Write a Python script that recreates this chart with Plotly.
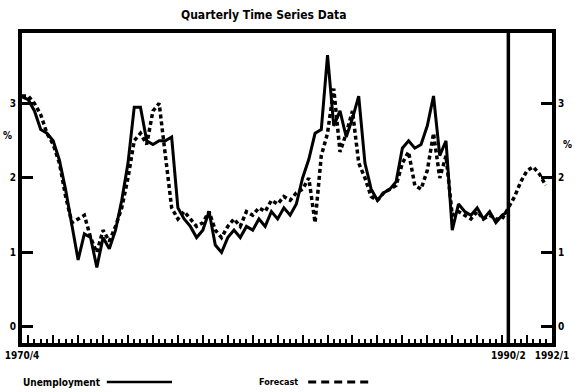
import plotly.graph_objects as go

# Quarterly index starting at 1970/4 (year + fraction of quarter start)
start_year = 1970.75
quarter_step = 0.25

unemployment = [
    3.09, 3.05, 2.90, 2.65, 2.60, 2.50, 2.24, 1.84, 1.37, 0.90,
    1.25, 1.20, 0.80, 1.20, 1.05, 1.30, 1.70, 2.20, 2.95, 2.95,
    2.50, 2.45, 2.50, 2.50, 2.55, 1.60, 1.45, 1.35, 1.20, 1.30,
    1.55, 1.10, 1.00, 1.20, 1.30, 1.20, 1.35, 1.30, 1.45, 1.35,
    1.55, 1.45, 1.60, 1.50, 1.65, 2.00, 2.25, 2.60, 2.65, 3.65,
    2.70, 2.90, 2.55, 2.80, 3.10, 2.20, 1.85, 1.70, 1.80, 1.85,
    1.95, 2.40, 2.50, 2.40, 2.45, 2.70, 3.10, 2.30, 2.50, 1.30,
    1.65, 1.55, 1.50, 1.60, 1.45, 1.55, 1.40, 1.50, 1.55,
]

forecast = [
    3.10, 3.10, 3.00, 2.85, 2.60, 2.45, 2.20, 1.75, 1.40, 1.45,
    1.50, 1.20, 1.00, 1.30, 1.15, 1.35, 1.60, 2.00, 2.50, 2.60,
    2.45, 2.90, 3.00, 2.30, 1.60, 1.45, 1.55, 1.45, 1.35, 1.40,
    1.55, 1.30, 1.20, 1.35, 1.45, 1.35, 1.55, 1.50, 1.60, 1.55,
    1.70, 1.65, 1.75, 1.70, 1.80, 1.85, 2.00, 1.40, 2.30, 2.60,
    3.20, 2.35, 2.60, 2.90, 2.20, 2.00, 1.75, 1.70, 1.80, 1.85,
    1.90, 2.20, 2.35, 1.90, 1.85, 2.10, 2.60, 2.00, 2.30, 1.50,
    1.55, 1.50, 1.45, 1.55, 1.45, 1.50, 1.45, 1.45, 1.60, 1.75,
    1.95, 2.10, 2.15, 2.05, 1.90,
]

y_ticks = [0, 1, 2, 3]
x_label_positions = [1970.75, 1990.25, 1992.0]
x_label_text = ["1970/4", "1990/2", "1992/1"]
forecast_origin = 1990.25
title_text = "Quarterly Time Series Data"

x_unemp = [start_year + quarter_step * i for i in range(len(unemployment))]
x_fore = [start_year + quarter_step * i for i in range(len(forecast))]

FONT = "DejaVu Sans Condensed, DejaVu Sans, sans-serif"
INK = "#000000"

fig = go.Figure()
fig.add_trace(go.Scatter(
    x=x_fore, y=forecast, mode="lines", name="Forecast",
    line=dict(color=INK, width=3.5, dash="4px,3px"),
))
fig.add_trace(go.Scatter(
    x=x_unemp, y=unemployment, mode="lines", name="Unemployment",
    line=dict(color=INK, width=3),
))
# invisible trace to carry the right-hand axis
fig.add_trace(go.Scatter(x=[start_year], y=[0], yaxis="y2", mode="lines",
                         line=dict(width=0), hoverinfo="skip", showlegend=False))

# yearly long ticks plus the labelled positions
year_ticks = list(range(1971, 1993))
tickvals = sorted(set(year_ticks + x_label_positions))
ticktext = []
for v in tickvals:
    if v in x_label_positions:
        ticktext.append("<b>" + x_label_text[x_label_positions.index(v)] + "</b>")
    else:
        ticktext.append("")

y_range = [-0.215, 3.946]
x_range = [start_year, 1992.0]

yaxis_common = dict(
    range=y_range, showgrid=False, zeroline=False, automargin=False,
    showline=True, linecolor=INK, linewidth=4,
    ticks="inside", ticklen=11, tickwidth=2.5, tickcolor=INK,
    tickvals=y_ticks, ticktext=["<b>%d</b>" % v for v in y_ticks],
    tickfont=dict(size=10, family=FONT, color=INK),
)

fig.update_layout(
    width=575, height=392,
    margin=dict(l=22, r=23, t=33, b=49, autoexpand=False),
    paper_bgcolor="white", plot_bgcolor="white",
    showlegend=False,
    font=dict(family=FONT, color=INK, size=10),
    xaxis=dict(
        range=x_range, showgrid=False, zeroline=False, automargin=False,
        showline=True, linecolor=INK, linewidth=4, mirror=True,
        ticks="inside", ticklen=8, tickwidth=2, tickcolor=INK,
        tickvals=tickvals, ticktext=ticktext,
        tickfont=dict(size=10, family=FONT, color=INK),
        minor=dict(dtick=quarter_step, tick0=start_year, ticks="inside",
                   ticklen=4, tickwidth=1.5, tickcolor=INK, showgrid=False),
    ),
    yaxis=dict(**yaxis_common),
    yaxis2=dict(**yaxis_common, overlaying="y", side="right"),
    shapes=[
        # start of the forecast period
        dict(type="line", xref="x", yref="paper", x0=forecast_origin, x1=forecast_origin,
             y0=0, y1=1, line=dict(color=INK, width=3.5)),
        # legend samples
        dict(type="line", xref="paper", yref="paper", x0=0.160, x1=0.283,
             y0=-0.126, y1=-0.126, line=dict(color=INK, width=2.5)),
        dict(type="line", xref="paper", yref="paper", x0=0.540, x1=0.660,
             y0=-0.126, y1=-0.126, line=dict(color=INK, width=3, dash="8px,5px")),
    ],
    annotations=[
        dict(text="<b>" + title_text + "</b>", xref="paper", yref="paper",
             x=0.457, y=1.0, yshift=18, xanchor="center", yanchor="middle",
             showarrow=False, font=dict(size=12, family=FONT, color=INK)),
        dict(text="<b>Unemployment</b>", xref="paper", yref="paper",
             x=-0.002, y=-0.126, xanchor="left", yanchor="middle",
             showarrow=False, font=dict(size=10, family=FONT, color=INK)),
        dict(text="<b>Forecast</b>", xref="paper", yref="paper",
             x=0.443, y=-0.126, xanchor="left", yanchor="middle",
             showarrow=False, font=dict(size=9, family=FONT, color=INK)),
        dict(text="<b>%</b>", xref="paper", yref="paper",
             x=-0.028, y=0.670, xanchor="center", yanchor="middle",
             showarrow=False, font=dict(size=10, family=FONT, color=INK)),
        dict(text="<b>%</b>", xref="paper", yref="paper",
             x=1.030, y=0.640, xanchor="center", yanchor="middle",
             showarrow=False, font=dict(size=10, family=FONT, color=INK)),
    ],
)

fig.write_html("out.html")
